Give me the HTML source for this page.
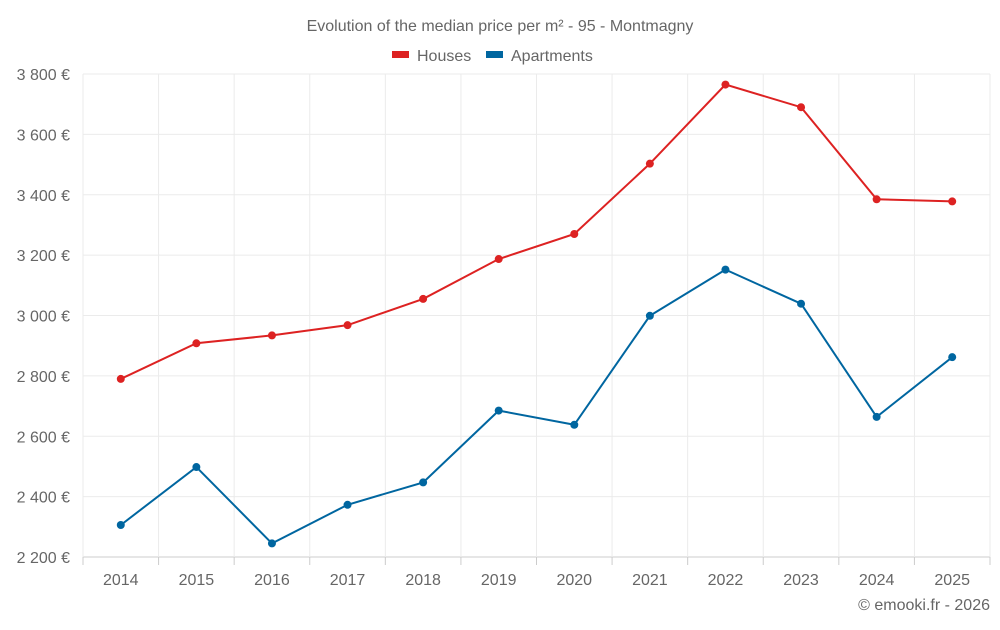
<!DOCTYPE html>
<html><head><meta charset="utf-8"><style>
body{margin:0;background:#fff;width:1000px;height:625px;overflow:hidden;font-family:"Liberation Sans",sans-serif}
svg text{font-family:"Liberation Sans",sans-serif;fill:#666}
</style></head><body>
<svg id="chart" width="1000" height="625" xmlns="http://www.w3.org/2000/svg">
<text x="500" y="31" text-anchor="middle" font-size="16">Evolution of the median price per m² - 95 - Montmagny</text>
<g><rect x="392" y="51" width="17" height="7" fill="#dd2222"/><text x="417" y="61" font-size="16">Houses</text></g>
<g><rect x="486" y="51" width="17" height="7" fill="#0066a0"/><text x="511" y="61" font-size="16">Apartments</text></g>
<text x="990" y="610" text-anchor="end" font-size="16">© emooki.fr - 2026</text>
<g id="grid"></g><g id="axes"></g><g id="series"></g>
</svg>
<script>
const years=[2014,2015,2016,2017,2018,2019,2020,2021,2022,2023,2024,2025];
const houses=[2790,2908,2934,2968,3055,3187,3270,3503,3765,3690,3385,3378];
const apartments=[2306,2498,2245,2373,2447,2685,2638,2999,3152,3039,2664,2862];
const yTicks=[2200,2400,2600,2800,3000,3200,3400,3600,3800];
const NS="http://www.w3.org/2000/svg";
const L=83,R=990,T=74,B=557,yMin=2200,yMax=3800;
const step=(R-L)/years.length;
const xs=i=>L+step*(i+0.5);
const ys=v=>B-(v-yMin)/(yMax-yMin)*(B-T);
function mk(tag,attrs,parent){const e=document.createElementNS(NS,tag);for(const k in attrs)e.setAttribute(k,attrs[k]);parent.appendChild(e);return e;}
const grid=document.getElementById('grid'),axes=document.getElementById('axes'),ser=document.getElementById('series');
yTicks.forEach(t=>{const y=ys(t);
 const g=mk('line',{x1:L,x2:R,y1:y,y2:y,stroke:t===yMin?'#ccc':'#ebebeb','stroke-width':1},grid);
 
 
 const tx=mk('text',{x:70,y:y+6,'text-anchor':'end','font-size':16},axes);
 tx.textContent=String(t).replace(/(\d)(\d{3})$/,'$1 $2')+' €';
 
 
});
for(let i=0;i<=years.length;i++){const x=L+step*i;
 const g=mk('line',{x1:x,x2:x,y1:T,y2:B,stroke:'#ebebeb','stroke-width':1},grid);
 
 
 const tk=mk('line',{x1:x,x2:x,y1:B,y2:B+8,stroke:'#ccc'},grid);
 
 
}
years.forEach((yr,i)=>{const tx=mk('text',{x:xs(i),y:585,'text-anchor':'middle','font-size':16},axes);
 tx.textContent=yr;
 
 
});
function series(vals,color,name){
 const p=mk('polyline',{points:vals.map((v,i)=>xs(i)+','+ys(v)).join(' '),fill:'none',stroke:color,'stroke-width':2},ser);
 
 
 vals.forEach((v,i)=>{const c=mk('circle',{cx:xs(i),cy:ys(v),r:4,fill:color},ser);
  
  
 });
}
series(houses,'#dd2222','houses');
series(apartments,'#0066a0','apartments');
</script>
</body></html>
